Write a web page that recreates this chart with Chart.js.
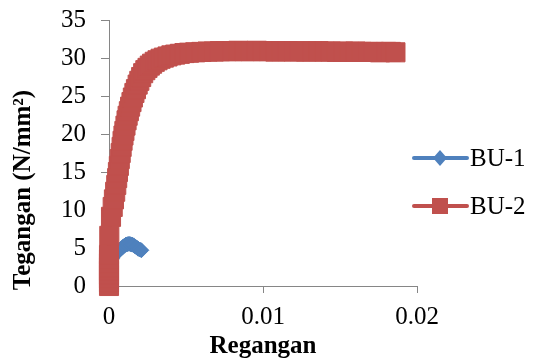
<!DOCTYPE html>
<html>
<head>
<meta charset="utf-8">
<script src="https://cdn.jsdelivr.net/npm/chart.js@4.4.1/dist/chart.umd.min.js"></script>
<style>
  html, body { margin: 0; padding: 0; background: #fff; }
  #wrap { width: 533px; height: 360px; }
</style>
</head>
<body>
<div id="wrap"><canvas id="chart" width="533" height="360"></canvas></div>
<script>
// readings (strain, stress in N/mm2)
const seriesNames = ["BU-1", "BU-2"]

const bu1Strain = [0, 0, 0.00005, 0.0001, 0.0002, 0.0003, 0.0004, 0.0005, 0.0006, 0.0007, 0.0008, 0.0009,
  0.001, 0.0011, 0.0012, 0.0013, 0.0014, 0.0015, 0.0016, 0.0017, 0.0018, 0.0019, 0.002, 0.0021]
const bu1Stress = [0, 1, 2, 3, 3.6, 3.95, 4.2, 4.4, 4.55, 4.75, 4.95, 5.15,
  5.3, 5.45, 5.5, 5.55, 5.5, 5.45, 5.35, 5.2, 5.05, 4.9, 4.8, 4.7]

const bu2Strain = [0, 0, 0, 0, 0, 0, 0, 0, 0,
  0.00002, 0.00013, 0.00024, 0.00032, 0.0004, 0.00047, 0.00053, 0.00058, 0.00064, 0.0007,
  0.00076, 0.00082, 0.00088, 0.00094, 0.001, 0.00107, 0.00114, 0.00121, 0.00129, 0.00137,
  0.00146, 0.00155, 0.00165, 0.00175, 0.00186, 0.00197, 0.00209, 0.00222, 0.00236, 0.0025,
  0.00265, 0.0028, 0.00297, 0.00315, 0.00335, 0.00356, 0.0038, 0.00405, 0.0043, 0.0046,
  0.0049, 0.0052, 0.0056, 0.006,
  0.0064, 0.0068, 0.0072, 0.0076, 0.008, 0.0084, 0.0088, 0.0092, 0.0096, 0.01,
  0.0104, 0.0108, 0.0112, 0.0116, 0.012, 0.0124, 0.0128, 0.0132, 0.0136, 0.014,
  0.0144, 0.0148, 0.0152, 0.0156, 0.016, 0.0164, 0.0168, 0.0172, 0.0176, 0.018,
  0.0183, 0.0186]
const bu2Stress = [0, 0.5, 1, 1.5, 2, 2.5, 3, 3.5, 4.1,
  6.6, 9.1, 10.4, 11.4, 12.4, 13.3, 14.2, 15.0, 15.8, 16.7,
  17.5, 18.3, 19.1, 19.8, 20.4, 21.1, 21.8, 22.4, 23.0, 23.6,
  24.2, 24.8, 25.4, 25.9, 26.5, 27.0, 27.5, 28.0, 28.4, 28.7,
  29.0, 29.25, 29.5, 29.7, 29.9, 30.05, 30.2, 30.35, 30.45, 30.55,
  30.65, 30.7, 30.75, 30.8,
  30.85, 30.85, 30.9, 30.9, 30.9, 30.95, 30.9, 30.9, 30.95, 30.9,
  30.9, 30.85, 30.9, 30.9, 30.85, 30.9, 30.85, 30.85, 30.9, 30.85,
  30.85, 30.8, 30.85, 30.8, 30.85, 30.8, 30.8, 30.8, 30.75, 30.8,
  30.8, 30.75]

const xTickLabels = ["0", "0.01", "0.02"]
const yTickLabels = ["0", "5", "10", "15", "20", "25", "30", "35"]
const xTitle = "Regangan"
const yTitle = "Tegangan (N/mm\u00B2)"

const BLUE = "#4F81BD"
const RED = "#C0504D"
const AXIS = "#868686"
const FONT = "'Liberation Serif', 'Times New Roman', serif"

const toPoints = (xs, ys) => xs.map((x, i) => ({ x: x, y: ys[i] }))

// axis titles + Excel-style legend (line with marker)
let excelText = {
  id: "excelText",
  afterDraw(chart) {
    const ctx = chart.ctx
    const area = chart.chartArea
    ctx.save()
    ctx.fillStyle = "#000"
    ctx.font = "bold 25px " + FONT
    ctx.textAlign = "center"
    ctx.textBaseline = "middle"
    ctx.fillText(xTitle, (area.left + area.right) / 2, 347)
    ctx.save()
    ctx.translate(24, 190)
    ctx.rotate(-Math.PI / 2)
    ctx.fillText(yTitle, 0, 0)
    ctx.restore()

    const rows = [158, 206]
    chart.data.datasets.forEach((ds, i) => {
      const y = rows[i]
      ctx.strokeStyle = ds.borderColor
      ctx.lineWidth = 4
      ctx.lineCap = "round"
      ctx.beginPath()
      ctx.moveTo(414, y)
      ctx.lineTo(467, y)
      ctx.stroke()
      ctx.fillStyle = ds.backgroundColor
      ctx.beginPath()
      if (ds.pointStyle === "rectRot") {
        ctx.moveTo(440, y - 8)
        ctx.lineTo(447, y)
        ctx.lineTo(440, y + 8)
        ctx.lineTo(433, y)
      } else {
        ctx.rect(432, y - 8, 16, 16)
      }
      ctx.closePath()
      ctx.fill()
      ctx.fillStyle = "#000"
      ctx.font = "25px " + FONT
      ctx.textAlign = "left"
      ctx.fillText(ds.label, 470, y + 1)
    })
    ctx.restore()
  }
}

new Chart(document.getElementById("chart"), {
  type: "scatter",
  data: {
    datasets: [
      {
        label: seriesNames[0],
        data: toPoints(bu1Strain, bu1Stress),
        showLine: true,
        borderColor: BLUE,
        backgroundColor: BLUE,
        borderWidth: 3.5,
        pointStyle: "rectRot",
        pointRadius: 7.5,
        pointBorderWidth: 1,
        pointBorderColor: BLUE,
        pointBackgroundColor: BLUE,
        clip: false,
        order: 1
      },
      {
        label: seriesNames[1],
        data: toPoints(bu2Strain, bu2Stress),
        showLine: true,
        borderColor: RED,
        backgroundColor: RED,
        borderWidth: 3.5,
        pointStyle: "rect",
        pointRadius: 13.5,
        pointBorderWidth: 1,
        pointBorderColor: RED,
        pointBackgroundColor: RED,
        clip: false,
        order: 0
      }
    ]
  },
  options: {
    responsive: false,
    animation: false,
    events: [],
    layout: { padding: { top: 20, right: 116, left: 0, bottom: 0 } },
    plugins: {
      legend: { display: false },
      tooltip: { enabled: false }
    },
    scales: {
      x: {
        type: "linear",
        position: "bottom",
        min: 0,
        max: 0.02,
        afterFit: s => { s.height = 74; s.paddingLeft = 0; s.paddingRight = 0 },
        border: { display: true, color: AXIS, width: 1 },
        grid: { drawOnChartArea: false, drawTicks: true, tickLength: 7, tickColor: AXIS, color: AXIS },
        ticks: {
          stepSize: 0.01,
          padding: 9,
          color: "#000",
          font: { family: FONT, size: 25 },
          maxRotation: 0,
          callback: (v, i) => xTickLabels[i]
        }
      },
      y: {
        type: "linear",
        min: 0,
        max: 35,
        afterFit: s => { s.width = 109; s.paddingTop = 0; s.paddingBottom = 0 },
        border: { display: true, color: AXIS, width: 1 },
        grid: { drawOnChartArea: false, drawTicks: true, tickLength: 8, tickColor: AXIS, color: AXIS },
        ticks: {
          stepSize: 5,
          padding: 15,
          color: "#000",
          font: { family: FONT, size: 25 },
          callback: (v, i) => yTickLabels[i]
        }
      }
    }
  },
  plugins: [excelText]
})
</script>
</body>
</html>
